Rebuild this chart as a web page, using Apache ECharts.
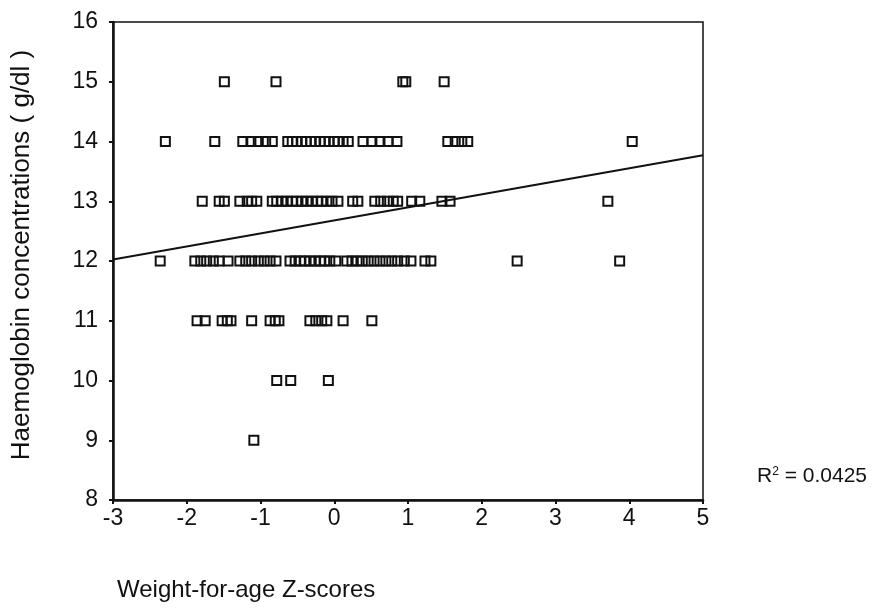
<!DOCTYPE html>
<html>
<head>
<meta charset="utf-8">
<script src="https://cdn.jsdelivr.net/npm/echarts@6/dist/echarts.min.js"></script>
<style>
html,body{margin:0;padding:0;background:#fff;}
#chart{width:876px;height:610px;}
</style>
</head>
<body>
<div id="chart"></div>
<script>
// Weight-for-age Z-scores grouped by haemoglobin concentration (g/dl)
var hb15 = [-1.49, -0.79, 0.93, 0.97, 1.49];
var hb14 = [-2.29, -1.62, -1.24, -1.13, -1.03, -0.93, -0.84,
  -0.63, -0.57, -0.51, -0.44, -0.38, -0.32, -0.26, -0.19, -0.13, -0.07, 0.00, 0.05, 0.12, 0.19,
  0.39, 0.51, 0.62, 0.73, 0.85, 1.54, 1.64, 1.73, 1.81, 4.04];
var hb13 = [-1.79, -1.56, -1.49, -1.28, -1.18, -1.12, -1.05,
  -0.84, -0.78, -0.71, -0.64, -0.57, -0.51, -0.44, -0.37, -0.30, -0.23, -0.17, -0.10, -0.03, 0.05,
  0.25, 0.32, 0.55, 0.63, 0.72, 0.80, 0.86, 1.05, 1.16, 1.46, 1.57, 3.71];
var hb12 = [-2.36, -1.89, -1.81, -1.73, -1.64, -1.56, -1.44,
  -1.28, -1.20, -1.12, -1.03, -0.95, -0.87, -0.79,
  -0.60, -0.53, -0.46, -0.40, -0.33, -0.26, -0.19, -0.13, -0.06, 0.02,
  0.17, 0.24, 0.31, 0.38, 0.46, 0.54, 0.62, 0.70, 0.78, 0.86, 0.95, 1.04, 1.23, 1.31, 2.48, 3.87];
var hb11 = [-1.86, -1.75, -1.52, -1.45, -1.40, -1.12, -0.87, -0.80, -0.75,
  -0.33, -0.25, -0.17, -0.10, 0.12, 0.51];
var hb10 = [-0.78, -0.59, -0.08];
var hb9 = [-1.09];

var hbLevels = [15, 14, 13, 12, 11, 10, 9];
var zGroups = [hb15, hb14, hb13, hb12, hb11, hb10, hb9];

// Fitted linear regression
var regIntercept = 12.68;
var regSlope = 0.218;
var rSquared = '0.0425';

var xTicks = [-3, 5];
var yTicks = [8, 16];

var points = [];
zGroups.forEach(function (g, i) {
  g.forEach(function (z) { points.push([z, hbLevels[i]]); });
});
var linePts = [
  [xTicks[0], regIntercept + regSlope * xTicks[0]],
  [xTicks[1], regIntercept + regSlope * xTicks[1]]
];

var font = 'Liberation Sans, Arial, sans-serif';
var chart = echarts.init(document.getElementById('chart'));
chart.setOption({
  backgroundColor: '#fff',
  animation: false,
  grid: { left: 113, right: 173, top: 22, bottom: 110, show: true, borderColor: '#111', borderWidth: 1.5 },
  xAxis: {
    type: 'value', min: xTicks[0], max: xTicks[1], interval: 1,
    splitLine: { show: false },
    axisLine: { show: true, onZero: false, lineStyle: { color: '#111', width: 2.5 } },
    axisTick: { show: true, length: 4, lineStyle: { color: '#111', width: 2 } },
    axisLabel: { color: '#111', fontSize: 23, fontFamily: font, margin: 7 }
  },
  yAxis: {
    type: 'value', min: yTicks[0], max: yTicks[1], interval: 1,
    splitLine: { show: false },
    axisLine: { show: true, onZero: false, lineStyle: { color: '#111', width: 2.5 } },
    axisTick: { show: true, length: 4, lineStyle: { color: '#111', width: 2 } },
    axisLabel: { color: '#111', fontSize: 23, fontFamily: font, margin: 15 }
  },
  series: [
    {
      type: 'scatter', data: points, symbol: 'rect', symbolSize: 9,
      itemStyle: { color: 'rgba(0,0,0,0)', borderColor: '#111', borderWidth: 2, opacity: 1 }
    },
    {
      type: 'line', data: linePts, showSymbol: false, symbol: 'none',
      lineStyle: { color: '#111', width: 2 }
    }
  ],
  graphic: [
    {
      type: 'text', x: 22, y: 255, rotation: Math.PI / 2,
      style: { text: 'Haemoglobin concentrations ( g/dl )', fontSize: 26, fontFamily: font, fill: '#111',
        align: 'center', verticalAlign: 'middle' }
    },
    {
      type: 'text', left: 117, top: 578,
      style: { text: 'Weight-for-age Z-scores', fontSize: 24, fontFamily: font, fill: '#111' }
    },
    {
      type: 'text', left: 757, top: 466,
      style: {
        text: '{b|R}{s|2}{b| = ' + rSquared + '}',
        rich: {
          b: { fontSize: 21, fontFamily: font, fill: '#111', verticalAlign: 'bottom' },
          s: { fontSize: 12, fontFamily: font, fill: '#111', verticalAlign: 'top', padding: [0, 0, 9, 0] }
        }
      }
    }
  ]
});
</script>
</body>
</html>
